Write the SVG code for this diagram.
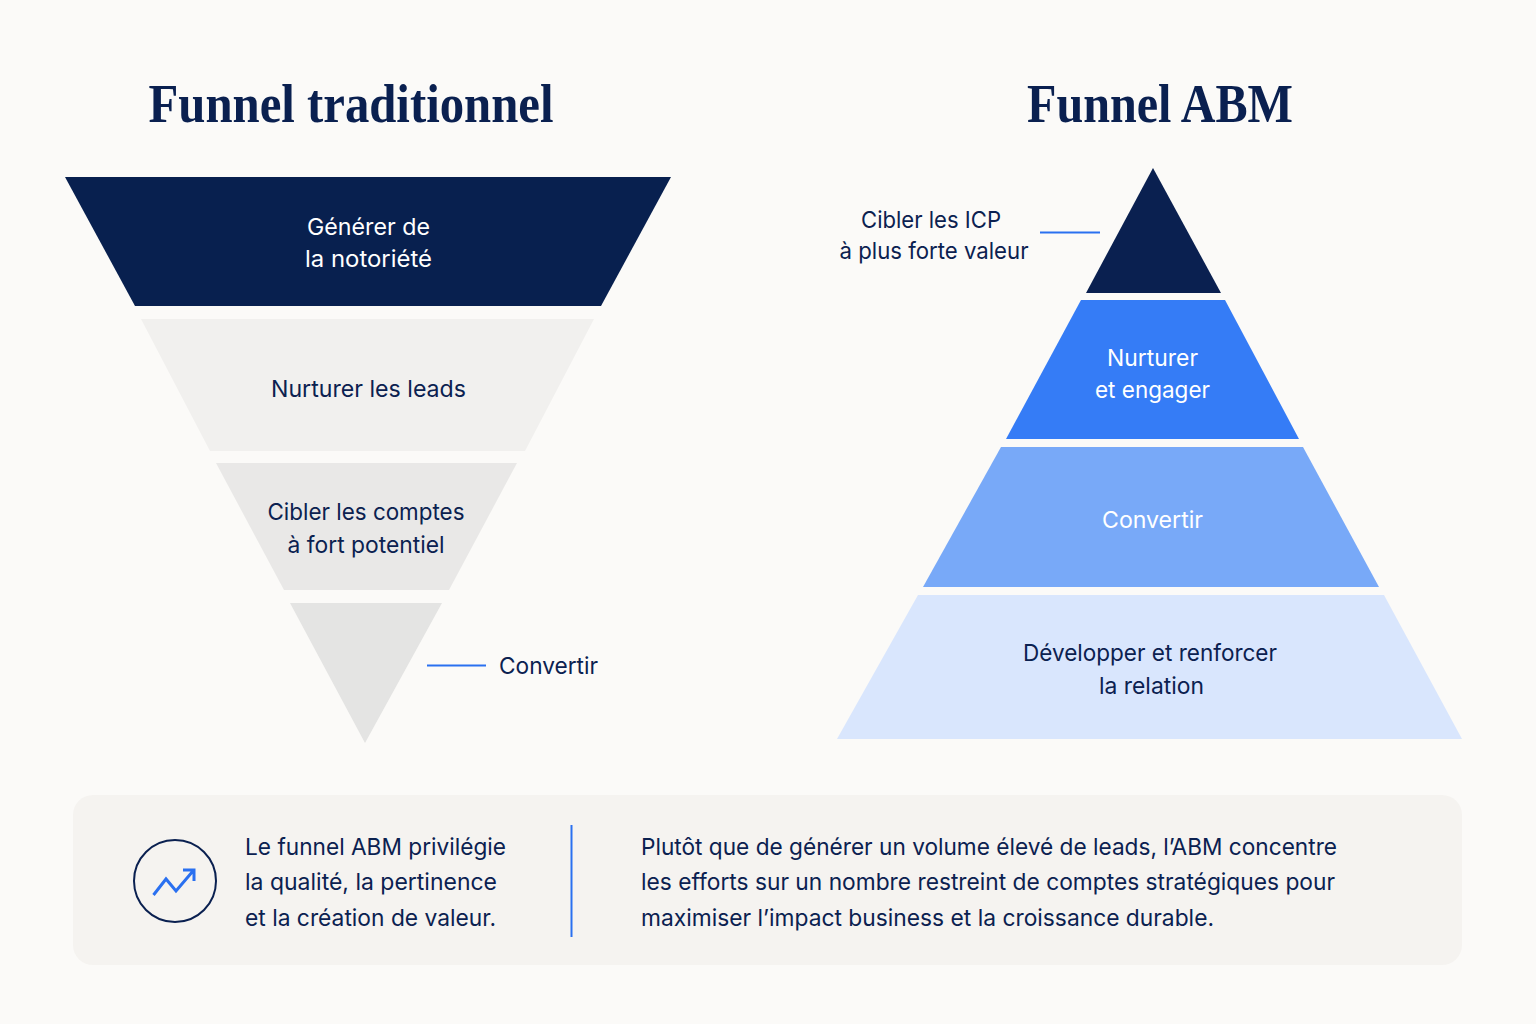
<svg xmlns="http://www.w3.org/2000/svg" width="1536" height="1024" viewBox="0 0 1536 1024">
<style>
text{font-family:"Inter","Liberation Sans",sans-serif;font-size:23px;fill:#0b2150;text-anchor:middle}
.t{font-family:"Liberation Serif",serif;font-size:55px;font-weight:700;fill:#0a2050}
.w{fill:#fff}
.l{text-anchor:start}
.c{stroke:#2a70f0;stroke-width:2;fill:none}
</style>
<rect width="1536" height="1024" fill="#fbfaf8"/>
<g id="titles">
<text class="t" x="351" y="122" textLength="405" lengthAdjust="spacingAndGlyphs">Funnel traditionnel</text>
<text class="t" x="1160" y="122" textLength="266" lengthAdjust="spacingAndGlyphs">Funnel ABM</text>
</g>
<g id="funnel-1"><polygon points="65,177 671,177 601,306 135,306" fill="#08204f"/><text class="w" x="368.500" y="234.500" textLength="123" lengthAdjust="spacingAndGlyphs">Générer de</text><text class="w" x="368.500" y="267" textLength="127" lengthAdjust="spacingAndGlyphs">la notoriété</text></g>
<g id="funnel-2"><polygon points="141,319 594,319 525,451 210,451" fill="#f1f0ee"/><text x="368.500" y="396.500" textLength="195" lengthAdjust="spacingAndGlyphs">Nurturer les leads</text></g>
<g id="funnel-3"><polygon points="216,463 517,463 449,590 284,590" fill="#e9e8e7"/><text x="366" y="519.500" textLength="197" lengthAdjust="spacingAndGlyphs">Cibler les comptes</text><text x="366" y="552.500" textLength="157" lengthAdjust="spacingAndGlyphs">à fort potentiel</text></g>
<g id="funnel-4"><polygon points="290,603 442,603 365,743" fill="#e4e4e3"/><text class="l" x="499" y="674" textLength="99" lengthAdjust="spacingAndGlyphs">Convertir</text></g>
<g id="pyramid-1"><polygon points="1153,168 1221,293 1086,293" fill="#0a2050"/><text x="931" y="228" textLength="140" lengthAdjust="spacingAndGlyphs">Cibler les ICP</text><text x="934" y="259" textLength="189" lengthAdjust="spacingAndGlyphs">à plus forte valeur</text></g>
<g id="pyramid-2"><polygon points="1081,300 1225,300 1299,439 1006,439" fill="#357cf6"/><text class="w" x="1152.500" y="365.500" textLength="91" lengthAdjust="spacingAndGlyphs">Nurturer</text><text class="w" x="1152.500" y="398" textLength="115" lengthAdjust="spacingAndGlyphs">et engager</text></g>
<g id="pyramid-3"><polygon points="1001,447 1303,447 1379,587 923,587" fill="#78a9f8"/><text class="w" x="1152.500" y="528" textLength="101" lengthAdjust="spacingAndGlyphs">Convertir</text></g>
<g id="pyramid-4"><polygon points="918,595 1384,595 1462,739 837,739" fill="#d9e6fd"/><text x="1150" y="660.500" textLength="254" lengthAdjust="spacingAndGlyphs">Développer et renforcer</text><text x="1151.500" y="693.500" textLength="105" lengthAdjust="spacingAndGlyphs">la relation</text></g>
<g id="connectors"><line class="c" x1="427" y1="665.500" x2="486" y2="665.500"/><line class="c" x1="1040" y1="232.500" x2="1100" y2="232.500"/></g>
<g id="callout">
<rect x="73" y="795" width="1389" height="170" rx="20" fill="#f5f3f0"/>
<circle cx="175" cy="881" r="41" fill="none" stroke="#0a2050" stroke-width="2"/>
<path d="M153.500 895L166 879L176 891L193 871M183 870H194V881" fill="none" stroke="#2a70f0" stroke-width="3"/>
<text class="l" x="245" y="855" textLength="261" lengthAdjust="spacingAndGlyphs">Le funnel ABM privilégie</text><text class="l" x="245" y="890" textLength="252" lengthAdjust="spacingAndGlyphs">la qualité, la pertinence</text><text class="l" x="245" y="925.500" textLength="251" lengthAdjust="spacingAndGlyphs">et la création de valeur.</text>
<line class="c" x1="571.500" y1="825" x2="571.500" y2="937"/>
<text class="l" x="641" y="855" textLength="696" lengthAdjust="spacingAndGlyphs">Plutôt que de générer un volume élevé de leads, l’ABM concentre</text><text class="l" x="641" y="890" textLength="694" lengthAdjust="spacingAndGlyphs">les efforts sur un nombre restreint de comptes stratégiques pour</text><text class="l" x="641" y="925.500" textLength="573" lengthAdjust="spacingAndGlyphs">maximiser l’impact business et la croissance durable.</text>
</g>
</svg>
